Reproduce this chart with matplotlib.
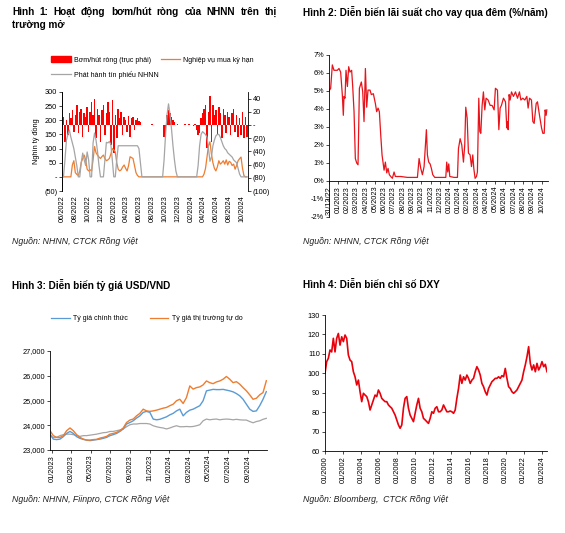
import matplotlib.pyplot as plt
from matplotlib.patches import Patch
from matplotlib.lines import Line2D
import numpy as np
import pandas as pd

NARROW = ['Liberation Sans Narrow', 'Liberation Sans', 'DejaVu Sans']
REG = ['Liberation Sans', 'DejaVu Sans']
plt.rcParams['font.family'] = NARROW
plt.rcParams['axes.linewidth'] = 0.6

# ---------------- data ----------------
# Hinh 1: weekly, from 01/06/2022
net_omo = [-20, 12, -25, 8, -15,
           18, 10, 22, -10,
           15, 30, -12, 20, 25,
           -18, 18, 12, 28,
           -10, 20, 35, 15,
           40, -20, 25, 15,
           -25, 22, 30, -15, 18,
           35, 20, -30, 38,
           -42, 15, -20, 25, 10,
           20, -15, 12, 8,
           -10, 14, -18, 10,
           12, -8, 8, 10,
           6, 4,
           0, 0, 0, 0, 0, 0, 0, 1, 0, 0, 0, 0, 0, 0, 0,
           -18, -20, 15, 22, 18, 12, 8, 4,
           0, 1, 0, 0, 0, 0, 2, 0, 0, 1.5, 0, 0, -1.5, 1,
           -8, -15, -12, 10, 18,
           25, 30, -35, 20,
           44, -25, 30, 15,
           22, -15, 28, 18,
           -20, 25, 15, -12, 20,
           12, -15, 18, 25,
           -10, 15, -18, 10,
           -15, 20, -20, 12, -18]
bills = [0, 0, 60, 130, 150, 165, 140, 120, 100, 70, 40,
         0, 0, 50, 84, 60, 40, 88, 60, 0, 0,
         120, 155, 130, 90, 40, 0, 0, 0, 60, 122,
         120, 125, 115, 60, 0, 0, 60, 110, 110, 110,
         110, 110, 110, 110, 110, 110, 110, 110, 110, 110, 110, 100, 50,
         0, 0, 0, 0, 0, 0, 0, 0, 0, 0, 0, 0, 0, 0, 0,
         60, 150, 220, 258, 220, 170, 110, 60, 20, 0,
         0, 0, 0, 0, 0, 0, 0, 0, 0, 0, 0, 0, 0,
         40, 110, 150, 160, 155, 150, 140, 100, 55, 70,
         110, 130, 145, 150, 150, 140, 125, 110, 100, 95,
         85, 80, 75, 70, 60, 55, 50, 30, 10, 0,
         0, 0, 0, 0]
repo = [0, 0, 0, 0, 0, 0, 0,
        42, 57, 15, 9, 5, 20, 51, 65, 77, 60, 27, 21, 25, 21,
        60, 107, 85, 77, 70, 65, 72, 77, 65, 57, 60, 65, 80, 100, 95, 89,
        50, 27, 21, 25, 35, 42, 30, 21, 40, 71, 68, 65, 40, 15, 5] + [0] * 44 + \
       [10, 30, 70, 110, 124, 80, 50, 30, 21, 35, 57, 45, 50, 57, 45,
        60, 42, 55, 51, 40, 45, 27, 40, 57, 64, 70, 30, 4, 0, 0]

# Hinh 2: overnight rate, months after 31/12/2022
rate_month = [0.00, 0.18, 0.36, 0.54, 0.90, 1.08, 1.26, 1.44, 1.55, 1.62,
              1.73, 1.84, 1.99, 2.13, 2.27, 2.45, 2.56, 2.71, 2.85, 3.00,
              3.14, 3.29, 3.50, 3.65, 3.79, 3.94, 4.08, 4.22, 4.44, 4.58,
              4.80, 5.02, 5.16, 5.31, 5.45, 5.60, 5.74, 5.96, 6.10, 6.25,
              6.39, 6.53, 6.68, 6.86, 7.04, 7.18, 7.76, 8.48, 9.21, 9.57,
              9.75, 9.93, 10.11, 10.29, 10.43, 10.54, 10.65, 10.79, 10.94, 11.08,
              11.23, 11.44, 12.09, 12.64, 12.74, 12.85, 12.96, 13.07, 13.54, 13.90,
              14.01, 14.19, 14.37, 14.55, 14.69, 14.80, 14.95, 15.09, 15.27, 15.42,
              15.56, 15.67, 15.81, 15.96, 16.06, 16.21, 16.32, 16.43, 16.57, 16.71,
              16.86, 17.00, 17.22, 17.44, 17.65, 17.87, 18.01, 18.23, 18.38, 18.52,
              18.66, 18.88, 19.10, 19.24, 19.31, 19.39, 19.49, 19.60, 19.75, 19.96,
              20.18, 20.40, 20.61, 20.76, 20.97, 21.19, 21.41, 21.55, 21.70, 21.91,
              22.06, 22.20, 22.42, 22.56, 22.78, 23.00, 23.14, 23.29, 23.39, 23.50,
              23.57]
rate = [5.0, 5.15, 6.45, 6.15, 6.15, 6.25, 6.05, 4.8, 3.65, 4.7,
        4.6, 6.15, 5.25, 6.35, 6.05, 6.15, 5.3, 3.85, 1.25, 1.0,
        0.9, 5.15, 5.5, 4.95, 3.3, 6.25, 4.1, 5.05, 5.05, 4.8,
        4.85, 4.3, 3.85, 4.05, 3.85, 2.55, 1.45, 0.6, 1.05, 0.45,
        0.7, 0.35, 0.25, 0.15, 0.5, 0.25, 0.25, 0.2, 0.2, 0.2,
        1.25, 0.7, 0.35, 0.8, 2.0, 2.85, 1.45, 1.05, 0.95, 0.7,
        0.35, 0.2, 0.2, 0.2, 1.05, 0.5, 0.95, 0.25, 0.2, 0.2,
        1.8, 2.35, 2.0, 1.05, 2.0, 4.1, 3.5, 1.55, 1.45, 0.8,
        1.45, 0.7, 0.15, 0.25, 0.5, 4.6, 2.75, 2.65, 4.2, 4.95,
        3.95, 4.6, 4.5, 4.2, 4.2, 3.95, 5.15, 5.05, 2.85, 4.05,
        4.2, 4.6, 4.4, 2.95, 3.3, 2.85, 4.8, 4.5, 4.95, 4.7,
        4.95, 4.6, 4.95, 4.5, 4.6, 4.5, 4.7, 4.05, 4.6, 4.5,
        3.3, 3.2, 4.3, 4.4, 3.65, 2.95, 2.65, 2.65, 3.95, 3.65,
        3.95]
rate_labels = ['31/12/22', '01/2023', '02/2023', '03/2023', '04/2023', '05/2023',
               '06/2023', '07/2023', '08/2023', '09/2023', '10/2023', '11/2023',
               '12/2023', '01/2024', '01/2024', '02/2024', '03/2024', '04/2024',
               '05/2024', '06/2024', '07/2024', '08/2024', '09/2024', '10/2024']

# Hinh 3: USD/VND, ~10-day steps from late 12/2022
fx_official = [23640, 23440, 23420, 23440, 23540, 23670, 23750, 23670, 23540, 23470,
               23430, 23400, 23380, 23400, 23420, 23440, 23470, 23510, 23580, 23620,
               23670, 23750, 23850, 24050, 24110, 24180, 24290, 24380, 24520, 24560,
               24520, 24250, 24220, 24240, 24290, 24340, 24420, 24480, 24580, 24650,
               24380, 24520, 24610, 24650, 24720, 24790, 24990, 25390, 25420, 25450,
               25440, 25440, 25450, 25420, 25390, 25350, 25280, 25190, 25050, 24850,
               24650, 24560, 24580, 24790, 25050, 25360]
fx_free = [23780, 23580, 23510, 23510, 23580, 23780, 23890, 23780, 23620, 23510,
           23440, 23400, 23400, 23420, 23430, 23480, 23510, 23550, 23640, 23670,
           23710, 23780, 23890, 24110, 24210, 24250, 24380, 24480, 24650, 24580,
           24560, 24580, 24610, 24650, 24690, 24720, 24790, 24850, 24990, 25050,
           24880, 25120, 25590, 25460, 25520, 25550, 25630, 25790, 25720, 25680,
           25750, 25790, 25860, 25970, 25860, 25720, 25760, 25660, 25520, 25390,
           25230, 25050, 25090, 25230, 25320, 25800]
fx_central = [23580, 23510, 23510, 23580, 23620, 23640, 23640, 23620, 23580, 23550,
              23580, 23580, 23600, 23620, 23640, 23670, 23700, 23710, 23750, 23750,
              23780, 23810, 23850, 23940, 24020, 24050, 24050, 24070, 24070, 24070,
              24050, 23980, 23940, 23910, 23890, 23850, 23890, 23940, 23980, 23940,
              23940, 23950, 23940, 23950, 23980, 24020, 24180, 24250, 24220, 24240,
              24250, 24220, 24240, 24250, 24240, 24220, 24240, 24220, 24210, 24210,
              24150, 24100, 24150, 24180, 24240, 24280]

# Hinh 4: DXY 2000 -> 2024
dxy = [100, 106, 107.7, 112, 111, 118, 111, 118, 120.5, 114.5, 118.8, 116.3, 119.7, 118,
       109.4, 106.8, 106, 100.8, 98.2, 94, 96.5, 90.5, 85.4, 89.7, 88.8, 88, 85.4, 81.1,
       83.7, 86.2, 88.8, 88, 91.4, 89.7, 87.1, 86.2, 85.4, 85.4, 83.7, 82.8, 82, 80.2,
       78.5, 76, 73.4, 71.7, 73.4, 82, 87.1, 88, 82, 78.5, 76.8, 75.1, 79.4, 83.7, 87.1,
       82, 80.2, 76.8, 76, 75.1, 74.2, 76.8, 80.2, 79.4, 82, 82.8, 80.2, 80.2, 81.1, 83.7,
       82, 80.2, 80.2, 80.6, 80.2, 79.4, 81.1, 87.1, 92.2, 99.1, 94.8, 98.2, 96.5, 99.1,
       97.4, 94.8, 96.5, 97.4, 100.8, 103.4, 101.7, 99.1, 94.8, 93.1, 90.5, 88.8, 92.2,
       94, 95.7, 96.5, 97.4, 97.4, 98.2, 97.4, 98.8, 98.2, 102.5, 97.4, 93.1, 92.2, 90.5,
       89.7, 90.5, 91.4, 93.1, 94.8, 96.5, 100.8, 104.3, 108.5, 113.7, 105.1, 101.7,
       104.3, 100.8, 105.1, 101.7, 103.4, 106, 103.4, 104.6, 100.8]

RED = '#FF0000'
ORANGE = '#ED7D31'
GRAY = '#A5A5A5'
BLUE = '#5B9BD5'
TS = 5.3  # tick size

W, H = 565, 533
fig = plt.figure(figsize=(W / 100, H / 100), dpi=100)


def box(l, t, r, b):
    return [l / W, 1 - b / H, (r - l) / W, (b - t) / H]


def ftext(x, y, s, **kw):
    return fig.text(x / W, 1 - y / H, s, va='center', ha='left', **kw)


def justify(x0, x1, y, s, **kw):
    # spread the words of one line between x0 and x1 (like a justified paragraph)
    r = fig.canvas.get_renderer()
    words = s.split(' ')
    ts = [ftext(x0, y, w, **kw) for w in words]
    ws = [t.get_window_extent(r).width for t in ts]
    gap = (x1 - x0 - sum(ws)) / (len(words) - 1)
    x = x0
    for t, w in zip(ts, ws):
        t.set_x(x / W)
        x += w + gap


def paren(v):
    if v == 0:
        return '-'
    return '({:,.0f})'.format(-v) if v < 0 else '{:,.0f}'.format(v)


def style(ax):
    ax.spines['top'].set_visible(False)
    ax.spines['right'].set_visible(False)
    ax.tick_params(labelsize=TS, length=2, width=0.5, pad=1.5)
    ax.tick_params(axis='x', labelrotation=90)


# ---------------- Hinh 1 ----------------
wk = pd.date_range('2022-06-01', periods=len(net_omo), freq='7D')
ax1 = fig.add_axes(box(62, 92, 248, 191))
ax1r = ax1.twinx()
ax1r.bar(wk, net_omo, width=7.2, color=RED, linewidth=0)
ax1.plot(wk, repo, color=ORANGE, lw=0.9)
ax1.plot(wk, bills, color=GRAY, lw=0.9)
ax1.set_zorder(ax1r.get_zorder() + 1)
ax1.patch.set_visible(False)
ax1.set_ylim(-50, 300)
ax1r.set_ylim(-100, 50)
lt = list(range(-50, 301, 50))
ax1.set_yticks(lt, [paren(v) for v in lt])
rt = list(range(-100, 41, 20))
ax1r.set_yticks(rt, [paren(v) for v in rt])
ax1.set_xlim(pd.Timestamp('2022-06-01'), pd.Timestamp('2024-10-28'))
t1 = pd.date_range('2022-06-01', '2024-10-01', freq='2MS')
ax1.set_xticks(t1, [d.strftime('%m/%Y') for d in t1])
for a in (ax1, ax1r):
    a.spines['top'].set_visible(False)
    a.spines['bottom'].set_visible(False)
    a.tick_params(labelsize=TS, length=2, width=0.5, pad=1.5)
ax1.spines['right'].set_visible(False)
ax1.tick_params(axis='x', length=0, pad=3, labelrotation=90)
ax1.set_ylabel('Nghìn tỷ đồng', fontsize=TS, labelpad=3)
h1 = [Patch(color=RED), Line2D([], [], color=GRAY, lw=0.9), Line2D([], [], color=ORANGE, lw=0.9)]
fig.legend(h1, ['Bơm/hút ròng (trục phải)', 'Phát hành tín phiếu NHNN', 'Nghiệp vụ mua kỳ hạn'],
           ncol=2, loc='upper left', bbox_to_anchor=(48 / W, 1 - 53 / H), frameon=False,
           fontsize=5.0, handlelength=2.8, handleheight=0.9, columnspacing=0.3,
           labelspacing=1.0, borderpad=0, handletextpad=0.4)

# ---------------- Hinh 2 ----------------
ax2 = fig.add_axes(box(329, 55, 548, 217))
ax2.spines['bottom'].set_position(('data', 0))
ax2.plot(rate_month, rate, color='#E8141B', lw=0.9)
ax2.set_ylim(-2, 7)
ax2.set_xlim(0, 23.7)
ax2.set_yticks(range(-2, 8), ['{}%'.format(v) for v in range(-2, 8)])
ax2.set_xticks(range(len(rate_labels)), rate_labels)
style(ax2)

# ---------------- Hinh 3 ----------------
d3 = pd.date_range('2022-12-26', '2024-10-28', periods=len(fx_official))
ax3 = fig.add_axes(box(50, 351, 267, 450))
ax3.plot(d3, fx_central, color=GRAY, lw=0.9)
ax3.plot(d3, fx_official, color=BLUE, lw=1.0)
ax3.plot(d3, fx_free, color=ORANGE, lw=1.0)
ax3.set_ylim(23000, 27000)
yt3 = list(range(23000, 27001, 1000))
ax3.set_yticks(yt3, ['{:,}'.format(v) for v in yt3])
ax3.set_xlim(pd.Timestamp('2022-12-26'), pd.Timestamp('2024-10-30'))
t3 = pd.date_range('2023-01-01', '2024-09-01', freq='2MS')
ax3.set_xticks(t3, [d.strftime('%m/%Y') for d in t3])
style(ax3)
h3 = [Line2D([], [], color=BLUE, lw=0.9), Line2D([], [], color=ORANGE, lw=0.9)]
fig.legend(h3, ['Tỷ giá chính thức', 'Tỷ giá thị trường tự do'], ncol=2, loc='center left',
           bbox_to_anchor=(48 / W, 1 - 319 / H), frameon=False, fontsize=5.0,
           handlelength=2.6, columnspacing=3.2, borderpad=0, handletextpad=0.5)

# ---------------- Hinh 4 ----------------
d4 = pd.date_range('2000-01-01', '2024-07-31', periods=len(dxy))
ax4 = fig.add_axes(box(325, 315, 547, 451))
ax4.plot(d4, dxy, color='#E8000B', lw=1.2)
ax4.set_ylim(60, 130)
ax4.set_yticks(range(60, 131, 10))
ax4.set_xlim(pd.Timestamp('2000-01-01'), pd.Timestamp('2024-07-31'))
t4 = pd.date_range('2000-01-01', '2024-01-01', freq='24MS')
ax4.set_xticks(t4, [d.strftime('%m/%Y') for d in t4])
style(ax4)

# ---------------- titles & sources ----------------
tk = dict(family=REG, fontsize=7.2, fontweight='bold')
justify(12, 277, 12, 'Hình 1: Hoạt động bơm/hút ròng của NHNN trên thị', **tk)
ftext(12, 25, 'trường mở', **tk)
ftext(303, 12, 'Hình 2: Diễn biến lãi suất cho vay qua đêm (%/năm)', **tk)
ftext(12, 285, 'Hình 3: Diễn biến tỷ giá USD/VND', **tk)
ftext(303, 285, 'Hình 4: Diễn biến chỉ số DXY', **tk)
sk = dict(family=REG, fontsize=6.3, style='italic', color='#222222')
ftext(12, 241, 'Nguồn: NHNN, CTCK Rồng Việt', **sk)
ftext(303, 241, 'Nguồn: NHNN, CTCK Rồng Việt', **sk)
ftext(12, 500, 'Nguồn: NHNN, Fiinpro, CTCK Rồng Việt', **sk)
ftext(303, 500, 'Nguồn: Bloomberg,  CTCK Rồng Việt', **sk)

fig.savefig('out.png', dpi=100)
